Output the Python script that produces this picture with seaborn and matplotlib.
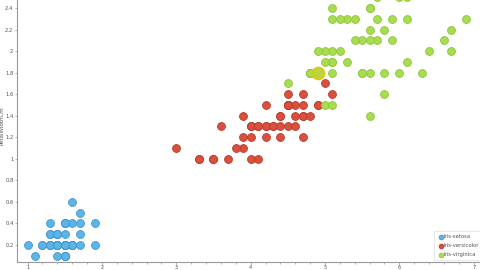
import numpy as np
import pandas as pd
import matplotlib
matplotlib.use("Agg")
import matplotlib.pyplot as plt
import seaborn as sns
from matplotlib.ticker import MultipleLocator, FuncFormatter

species_names = ["Iris-setosa", "Iris-versicolor", "Iris-virginica"]

setosa_len = [1.4,1.4,1.3,1.5,1.4,1.7,1.4,1.5,1.4,1.5,1.5,1.6,1.4,1.1,1.2,1.5,1.3,1.4,1.7,1.5,
              1.7,1.5,1.0,1.7,1.9,1.6,1.6,1.5,1.4,1.6,1.6,1.5,1.5,1.4,1.5,1.2,1.3,1.5,1.3,1.5,
              1.3,1.3,1.3,1.6,1.9,1.4,1.6,1.4,1.5,1.4]
setosa_wid = [0.2,0.2,0.2,0.2,0.2,0.4,0.3,0.2,0.2,0.1,0.2,0.2,0.1,0.1,0.2,0.4,0.4,0.3,0.3,0.3,
              0.2,0.4,0.2,0.5,0.2,0.2,0.4,0.2,0.2,0.2,0.2,0.4,0.1,0.2,0.1,0.2,0.2,0.1,0.2,0.2,
              0.3,0.3,0.2,0.6,0.4,0.3,0.2,0.2,0.2,0.2]

versicolor_len = [4.7,4.5,4.9,4.0,4.6,4.5,4.7,3.3,4.6,3.9,3.5,4.2,4.0,4.7,3.6,4.4,4.5,4.1,4.5,3.9,
                  4.8,4.0,4.9,4.7,4.3,4.4,4.8,5.0,4.5,3.5,3.8,3.7,3.9,5.1,4.5,4.5,4.7,4.4,4.1,4.0,
                  4.4,4.6,4.0,3.3,4.2,4.2,4.2,4.3,3.0,4.1]
versicolor_wid = [1.4,1.5,1.5,1.3,1.5,1.3,1.6,1.0,1.3,1.4,1.0,1.5,1.0,1.4,1.3,1.4,1.5,1.0,1.5,1.1,
                  1.8,1.3,1.5,1.2,1.3,1.4,1.4,1.7,1.5,1.0,1.1,1.0,1.2,1.6,1.5,1.6,1.5,1.3,1.3,1.3,
                  1.2,1.4,1.2,1.0,1.3,1.2,1.3,1.3,1.1,1.3]

virginica_len = [6.0,5.1,5.9,5.6,5.8,6.6,4.5,6.3,5.8,6.1,5.1,5.3,5.5,5.0,5.1,5.3,5.5,6.7,6.9,5.0,
                 5.7,4.9,6.7,4.9,5.7,6.0,4.8,4.9,5.6,5.8,6.1,6.4,5.6,5.1,5.6,6.1,5.6,5.5,4.8,5.4,
                 5.6,5.1,5.1,5.9,5.7,5.2,5.0,5.2,5.4,5.1]
virginica_wid = [2.5,1.9,2.1,1.8,2.2,2.1,1.7,1.8,1.8,2.5,2.0,1.9,2.1,2.0,2.4,2.3,1.8,2.2,2.3,1.5,
                 2.3,2.0,2.0,1.8,2.1,1.8,1.8,1.8,2.1,1.6,1.9,2.0,2.2,1.5,1.4,2.3,2.4,1.8,1.8,2.1,
                 2.4,2.3,1.9,2.3,2.5,2.3,1.9,2.0,2.3,1.8]

x_ticks = [1, 2, 3, 4, 5, 6, 7]
y_ticks = [0.2, 0.4, 0.6, 0.8, 1.0, 1.2, 1.4, 1.6, 1.8, 2.0, 2.2, 2.4]

df = pd.DataFrame({
    "PetalLengthCm": setosa_len + versicolor_len + virginica_len,
    "PetalWidthCm": setosa_wid + versicolor_wid + virginica_wid,
    "Species": [species_names[0]] * len(setosa_len) + [species_names[1]] * len(versicolor_len)
               + [species_names[2]] * len(virginica_len),
})

fills = {"Iris-setosa": "#5db4e6", "Iris-versicolor": "#d9503f", "Iris-virginica": "#a9dc4e"}
edges = {"Iris-setosa": "#3f97cc", "Iris-versicolor": "#b93a2b", "Iris-virginica": "#8cc63c"}

sns.set_style("white")
plt.rcParams["font.family"] = ["DejaVu Sans"]

fig = plt.figure(figsize=(4.8, 2.7), dpi=100)
ax = fig.add_axes([17 / 480, 8.3 / 270, 1 - 17 / 480, 1 - 8.3 / 270])

for sp in species_names:
    sub = df[df["Species"] == sp]
    sns.scatterplot(data=sub, x="PetalLengthCm", y="PetalWidthCm", ax=ax,
                    color=fills[sp], edgecolor=edges[sp], linewidth=0.6, s=32,
                    label=sp, zorder=3)

# hover-highlighted point
hl = df[(df["Species"] == "Iris-virginica") & (df["PetalLengthCm"] == 4.9) & (df["PetalWidthCm"] == 1.8)].head(1)
ax.scatter(hl["PetalLengthCm"], hl["PetalWidthCm"], s=75, color="#b8d83a",
           edgecolor="#e6c21a", linewidth=1.2, zorder=4)

ax.set_xlim(0.857, 7.085)
ax.set_ylim(0.045, 2.474)
ax.set_xticks(x_ticks)
ax.set_yticks(y_ticks)
ax.xaxis.set_minor_locator(MultipleLocator(0.2))
fmt = FuncFormatter(lambda v, p: "%g" % round(v, 2))
ax.xaxis.set_major_formatter(fmt)
ax.yaxis.set_major_formatter(fmt)

for side in ["top", "right"]:
    ax.spines[side].set_visible(False)
for side in ["left", "bottom"]:
    ax.spines[side].set_color("#9a9a9a")
    ax.spines[side].set_linewidth(0.8)

ax.tick_params(axis="y", which="major", labelsize=3.8, colors="#9a9a9a",
               labelcolor="#555555", length=1.5, width=0.5, pad=1.0, direction="out", left=True)
ax.tick_params(axis="x", which="major", labelsize=3.6, colors="#9a9a9a",
               labelcolor="#555555", length=2.0, width=0.5, pad=0.3, direction="out", bottom=True)
ax.tick_params(axis="x", which="minor", length=1.5, width=0.5, colors="#9a9a9a",
               direction="out", bottom=True)

ax.set_xlabel("")
ax.set_ylabel("PetalWidthCm", fontsize=4.0, color="#555555", labelpad=0)
ax.yaxis.set_label_coords(-0.0265, 0.52)

leg = ax.legend(loc="lower right", bbox_to_anchor=(1.008, 0.0), fontsize=3.8, frameon=True,
                markerscale=0.6, handletextpad=0.0, borderpad=0.55, labelspacing=0.75,
                handlelength=1.2, fancybox=False, borderaxespad=0.3)
leg.get_frame().set_edgecolor("#dddddd")
leg.get_frame().set_linewidth(0.6)
for t in leg.get_texts():
    t.set_color("#555555")

fig.savefig("out.png", dpi=100)
